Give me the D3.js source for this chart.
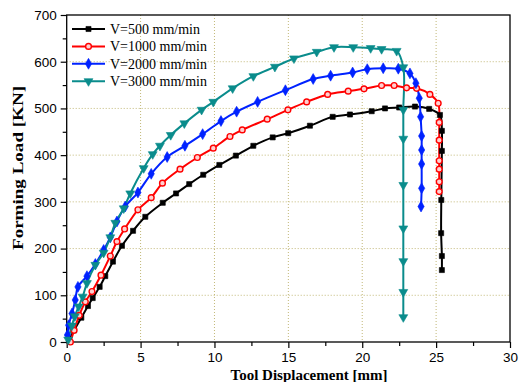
<!DOCTYPE html>
<html>
<head>
<meta charset="utf-8">
<script src="https://cdn.jsdelivr.net/npm/d3@7"></script>
<style>
  html, body { margin: 0; padding: 0; background: #fff; }
  svg { display: block; }
</style>
</head>
<body>
<svg id="chart" width="520" height="382"></svg>
<script>
// ---- Data ----
const seriesNames = ["V=500 mm/min", "V=1000 mm/min", "V=2000 mm/min", "V=3000 mm/min"];

const disp500 = [0.15,0.5,0.99,1.44,1.76,2.23,2.61,3.13,3.74,4.49,5.32,6.5,7.40,8.29,9.24,10.33,11.45,12.63,13.94,14.99,16.46,18.0,19.17,20.64,21.54,22.5,23.57,24.53,25.26,25.39,25.39,25.35,25.34,25.39,25.39];
const load500 = [3,25,52,77,94,118,141,172,206,238,268,298,318,338,358,379,399,420,438,447,463,482,487,494,500,502,504,499,486,452,409,304,233,184,154];

const disp1000 = [0.25,0.5,0.85,1.26,1.71,2.32,2.95,3.40,3.92,4.82,5.72,6.48,7.67,8.84,9.92,11.05,11.88,13.57,14.97,16.24,17.66,19.05,20.12,21.31,22.16,23.0,23.68,24.58,25.14,25.21,25.21,25.21,25.21,25.21,25.21];
const load1000 = [0,25,57,86,108,143,184,215,242,283,309,340,370,395,415,440,454,477,497,514,530,537,542,549,549,544,543,530,511,470,432,388,370,343,322];

const disp2000 = [0.05,0.13,0.36,0.58,0.76,1.37,1.94,2.50,2.95,3.40,3.96,4.82,5.72,6.8,8.0,9.2,10.44,11.5,12.92,14.8,16.68,17.86,19.35,20.34,21.42,22.44,23.23,23.63,23.86,23.95,24.02,24.02,24.02,24.02,23.98];
const load2000 = [15,36,61,90,118,141,167,197,224,258,290,320,360,396,420,445,473,493,514,539,563,570,577,584,586,585,575,554,522,482,441,411,381,329,290];

const disp3000 = [0.1,0.35,0.55,0.81,1.08,1.37,1.94,2.5,2.95,3.29,3.86,4.30,5.21,5.82,6.31,7.04,7.96,9.13,9.92,11.23,12.63,14.09,15.38,16.92,18.09,19.39,20.57,21.31,22.33,22.78,22.78,22.78,22.78,22.78,22.78,22.78,22.78];
const load3000 = [5,35,55,76,97,126,165,191,224,255,286,318,372,402,420,443,468,497,514,543,569,589,607,621,631,631,629,627,623,588,497,435,336,243,173,107,53];

const xTicks = [0,5,10,15,20,25,30];
const xMinorTicks = [2.5,7.5,12.5,17.5,22.5,27.5];
const yTicks = [0,100,200,300,400,500,600,700];
const yMinorTicks = [50,150,250,350,450,550,650];
const xLabel = "Tool Displacement [mm]";
const yLabel = "Forming Load [KN]";

// ---- Styles ----
const colors = ["#000000", "#ff0000", "#0022ff", "#0a8c8c"];
const symbols = [d3.symbolSquare, d3.symbolCircle, d3.symbolDiamond, d3.symbolTriangle];
const symSizes = [26, 26, 34, 34];
const symRot = [0, 0, 0, 180];
const symFill = ["#000000", "#ffd0d0", "#0022ff", "#0a8c8c"];

const series = [
  {name: seriesNames[0], xs: disp500, ys: load500},
  {name: seriesNames[1], xs: disp1000, ys: load1000},
  {name: seriesNames[2], xs: disp2000, ys: load2000},
  {name: seriesNames[3], xs: disp3000, ys: load3000}
].map((s, i) => ({...s, pts: s.xs.map((x, j) => [x, s.ys[j]]), i}));

const svg = d3.select("#chart");
const L = 66.7, R = 510, T = 15, B = 342;
const x = d3.scaleLinear().domain([0, 30]).range([L, R]);
const y = d3.scaleLinear().domain([0, 700]).range([B, T]);

// grid
const grid = svg.append("g").attr("stroke", "#c2b878").attr("stroke-width", 1).attr("stroke-dasharray", "1,2");
grid.selectAll("line.gx").data(xTicks.slice(1, -1)).join("line")
  .attr("x1", d => x(d)).attr("x2", d => x(d)).attr("y1", T).attr("y2", B);
grid.selectAll("line.gy").data(yTicks.slice(1, -1)).join("line")
  .attr("y1", d => y(d)).attr("y2", d => y(d)).attr("x1", L).attr("x2", R);

// axes
const tickFont = "'Liberation Sans', Arial, sans-serif";
const gx = svg.append("g").attr("transform", `translate(0,${B})`)
  .call(d3.axisBottom(x).tickValues(xTicks).tickSize(6).tickPadding(4).tickFormat(d3.format("d")));
const gxm = svg.append("g").attr("transform", `translate(0,${B})`)
  .call(d3.axisBottom(x).tickValues(xMinorTicks).tickSize(4).tickFormat(""));
const gy = svg.append("g").attr("transform", `translate(${L},0)`)
  .call(d3.axisLeft(y).tickValues(yTicks).tickSize(6).tickPadding(4).tickFormat(d3.format("d")));
const gym = svg.append("g").attr("transform", `translate(${L},0)`)
  .call(d3.axisLeft(y).tickValues(yMinorTicks).tickSize(4).tickFormat(""));
[gx, gxm, gy, gym].forEach(g => {
  g.select(".domain").remove();
  g.selectAll("line").attr("stroke", "#000").attr("stroke-width", 1.2);
  g.selectAll("text").attr("font-family", tickFont).attr("font-size", 13.5).attr("fill", "#000");
});

// frame
svg.append("rect").attr("x", L).attr("y", T).attr("width", R - L).attr("height", B - T)
  .attr("fill", "none").attr("stroke", "#000").attr("stroke-width", 1.3);

// lines
const line = d3.line().x(d => x(d[0])).y(d => y(d[1])).curve(d3.curveCatmullRom.alpha(0.5));
const plot = svg.append("g");
series.forEach(s => {
  plot.append("path").datum(s.pts).attr("d", line)
    .attr("fill", "none").attr("stroke", colors[s.i]).attr("stroke-width", 2);
});
series.forEach(s => {
  const sym = d3.symbol().type(symbols[s.i]).size(symSizes[s.i]);
  plot.append("g").selectAll("path").data(s.pts).join("path")
    .attr("d", sym)
    .attr("transform", d => `translate(${x(d[0])},${y(d[1])}) rotate(${symRot[s.i]})`)
    .attr("fill", symFill[s.i]).attr("stroke", colors[s.i]).attr("stroke-width", s.i === 1 ? 1.4 : 0.6);
});

// legend
const serif = "'Liberation Serif', 'Times New Roman', serif";
const leg = svg.append("g");
series.forEach((s, i) => {
  const yy = 29 + i * 17.4;
  leg.append("line").attr("x1", 72).attr("x2", 105).attr("y1", yy).attr("y2", yy)
    .attr("stroke", colors[i]).attr("stroke-width", 2);
  leg.append("path").attr("d", d3.symbol().type(symbols[i]).size(symSizes[i])())
    .attr("transform", `translate(88.5,${yy}) rotate(${symRot[i]})`)
    .attr("fill", symFill[i]).attr("stroke", colors[i]).attr("stroke-width", i === 1 ? 1.4 : 0.6);
  leg.append("text").attr("x", 110).attr("y", yy + 5).text(s.name)
    .attr("font-family", serif).attr("font-size", 14).attr("fill", "#000");
});

// axis titles
svg.append("text").attr("x", 309).attr("y", 380).attr("text-anchor", "middle")
  .attr("font-family", serif).attr("font-weight", "bold").attr("font-size", 15).text(xLabel);
svg.append("text").attr("transform", "translate(23,168) rotate(-90)").attr("text-anchor", "middle")
  .attr("font-family", serif).attr("font-weight", "bold").attr("font-size", 15)
  .attr("textLength", 164).attr("lengthAdjust", "spacingAndGlyphs").text(yLabel);
</script>
</body>
</html>
